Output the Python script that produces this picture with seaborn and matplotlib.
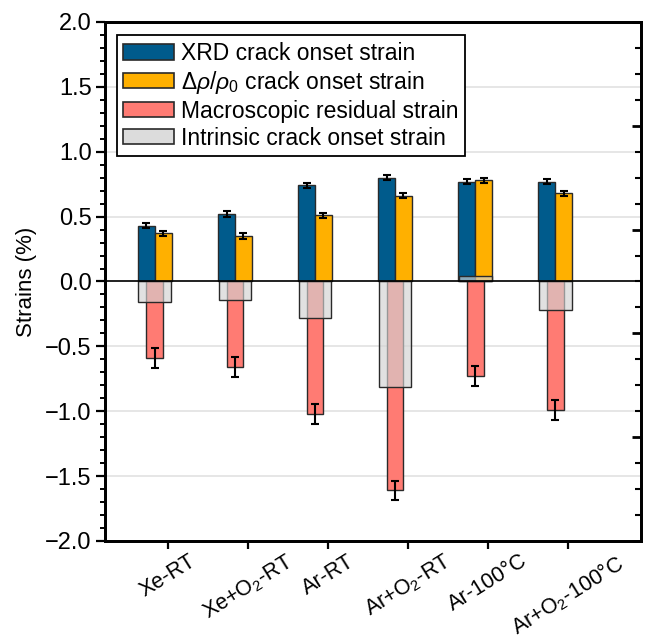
import numpy as np
import pandas as pd
import matplotlib
matplotlib.use("Agg")
import matplotlib.pyplot as plt
from matplotlib.patches import Patch
from matplotlib.ticker import MultipleLocator, FixedLocator, FuncFormatter
from matplotlib.colors import to_rgba
import seaborn as sns

# ---- data -------------------------------------------------------------
samples = ["Xe-RT", "Xe+O$_2$-RT", "Ar-RT", "Ar+O$_2$-RT", "Ar-100°C", "Ar+O$_2$-100°C"]
xrd_onset = [0.43, 0.52, 0.74, 0.80, 0.77, 0.77]
xrd_err = [0.02, 0.02, 0.02, 0.02, 0.02, 0.02]
rho_onset = [0.37, 0.35, 0.51, 0.66, 0.78, 0.68]
rho_err = [0.02, 0.02, 0.02, 0.02, 0.02, 0.02]
residual = [-0.59, -0.66, -1.02, -1.61, -0.73, -0.99]
residual_err = [0.075, 0.075, 0.075, 0.075, 0.075, 0.075]
intrinsic = [-0.16, -0.14, -0.28, -0.81, 0.04, -0.22]

series_names = ["XRD crack onset strain",
                r"$\Delta\rho/\rho_0$ crack onset strain",
                "Macroscopic residual strain",
                "Intrinsic crack onset strain"]

BLUE = "#005b8c"
ORANGE = "#ffb000"
RED = "#ff7b73"
GREY = "#d2d2d2"
EDGE = "#2a2a2a"

# ---- style ------------------------------------------------------------
sns.set_theme(style="ticks")
plt.rcParams["font.family"] = ["Liberation Sans", "DejaVu Sans"]
plt.rcParams["mathtext.fontset"] = "custom"
plt.rcParams["mathtext.rm"] = "Liberation Sans"
plt.rcParams["mathtext.it"] = "Liberation Sans:italic"
plt.rcParams["axes.linewidth"] = 2.0
plt.rcParams["text.color"] = "black"
plt.rcParams["axes.labelcolor"] = "black"

fig = plt.figure(figsize=(6.51, 6.39), dpi=100)
ax = fig.add_axes([0.161, 0.1534, 0.824, 0.8122])

# positive bars: XRD and resistivity onset strains side by side
top = pd.DataFrame({
    "sample": samples * 2,
    "series": [series_names[0]] * 6 + [series_names[1]] * 6,
    "value": xrd_onset + rho_onset,
})
sns.barplot(data=top, x="sample", y="value", hue="series", order=samples,
            hue_order=series_names[:2], palette=[BLUE, ORANGE], width=0.42,
            dodge=True, saturation=1, errorbar=None, edgecolor=EDGE,
            linewidth=1.0, legend=False, ax=ax, zorder=2)

# negative bars: macroscopic residual strain
res_df = pd.DataFrame({"sample": samples, "value": residual})
sns.barplot(data=res_df, x="sample", y="value", order=samples, color=RED,
            width=0.21, saturation=1, errorbar=None, edgecolor=EDGE,
            linewidth=1.0, ax=ax, zorder=2)

# translucent overlay: intrinsic crack onset strain
n_before = len(ax.patches)
int_df = pd.DataFrame({"sample": samples, "value": intrinsic})
sns.barplot(data=int_df, x="sample", y="value", order=samples, color=GREY,
            width=0.41, saturation=1, errorbar=None, edgecolor=EDGE,
            linewidth=1.0, ax=ax, zorder=3)
for p in ax.patches[n_before:]:
    p.set_facecolor(to_rgba(GREY, 0.65))

# error bars at the bar centres
cont_xrd, cont_rho, cont_res = ax.containers[0], ax.containers[1], ax.containers[2]
for cont, vals, errs in [(cont_xrd, xrd_onset, xrd_err),
                         (cont_rho, rho_onset, rho_err),
                         (cont_res, residual, residual_err)]:
    xs = [p.get_x() + p.get_width() / 2 for p in cont]
    ax.errorbar(xs, vals, yerr=errs, fmt="none", ecolor="black",
                elinewidth=1.5, capsize=3.2, capthick=1.5, zorder=4)

ax.axhline(0, color="black", lw=1.2, zorder=3.5)

# axes, ticks, grid
ax.set_ylim(-2.0, 2.0)
ax.set_xlim(-0.625, 6.075)
ax.yaxis.set_major_locator(MultipleLocator(0.5))
ax.yaxis.set_minor_locator(MultipleLocator(0.1))
ax.yaxis.set_major_formatter(FuncFormatter(
    lambda v, _: f"{v:.1f}".replace("-", "\u2212")))
ax.set_xticks(np.arange(len(samples)) + 0.1625)
ax.set_xticklabels(samples, rotation=32, ha="center")
ax.tick_params(axis="both", which="major", direction="out", length=6.5,
               width=1.6, color="black", labelcolor="black")
ax.tick_params(axis="y", which="major", labelsize=17, pad=3)
ax.tick_params(axis="x", which="major", labelsize=15.5, length=6, pad=1)
ax.tick_params(axis="y", which="minor", direction="out", length=3.6,
               width=1.4, left=True, color="black")
ax.tick_params(axis="x", which="minor", bottom=False)
ax.grid(axis="y", which="major", color="#e2e2e2", lw=1.2)
ax.set_axisbelow(True)
ax.set_xlabel("")
ax.set_ylabel("Strains (%)", fontsize=16, labelpad=6, color="black")
for s in ax.spines.values():
    s.set_visible(True)
    s.set_linewidth(2)
    s.set_color("black")

# right-hand axis carries inward ticks only
twin = ax.twinx()
twin.set_ylim(-2.0, 2.0)
twin.yaxis.set_major_locator(FixedLocator([-2.0, -1.2, -0.4, 0.4, 1.2, 2.0]))
twin.yaxis.set_minor_locator(MultipleLocator(0.2))
twin.tick_params(axis="y", which="major", direction="in", length=6.5, width=2,
                 labelright=False, color="black")
twin.tick_params(axis="y", which="minor", direction="in", length=4, width=1.5,
                 color="black")
for s in twin.spines.values():
    s.set_linewidth(2)
    s.set_color("black")

handles = [Patch(facecolor=BLUE, edgecolor=EDGE, lw=1.2),
           Patch(facecolor=ORANGE, edgecolor=EDGE, lw=1.2),
           Patch(facecolor=RED, edgecolor=EDGE, lw=1.2),
           Patch(facecolor="#dcdcdc", edgecolor=EDGE, lw=1.2)]
leg = ax.legend(handles, series_names, loc="upper left", fontsize=16.5,
                frameon=True, fancybox=False, edgecolor="black",
                handlelength=2.2, handleheight=0.66, handletextpad=0.3,
                labelspacing=0.17, borderpad=0.3, borderaxespad=0.0,
                bbox_to_anchor=(0.022, 0.975))
leg.get_frame().set_linewidth(1.3)
leg.get_frame().set_alpha(1)

fig.savefig("out.png", dpi=100)
